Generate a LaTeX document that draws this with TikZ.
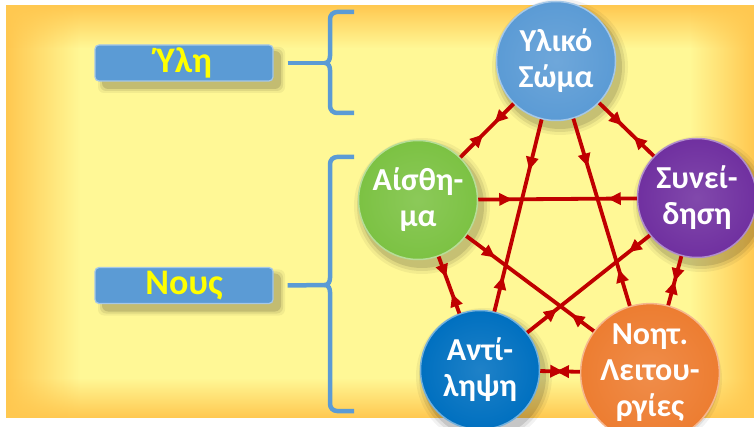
\documentclass[tikz,border=0pt]{standalone}
\usepackage{fontspec}
\newfontfamily\cf{Carlito}
\usetikzlibrary{arrows.meta,decorations.markings,fadings}

\definecolor{bgY}{HTML}{FFF896}
\definecolor{bgO}{HTML}{FFC850}
\definecolor{lblue}{HTML}{5B9BD5}
\definecolor{cgreen}{HTML}{7CC243}
\definecolor{cpurple}{HTML}{7030A0}
\definecolor{cblue}{HTML}{0070C0}
\definecolor{corange}{HTML}{ED7D31}
\definecolor{cred}{HTML}{C00000}
\definecolor{lyellow}{HTML}{FFFF00}

\tikzfading[name=fadeToRight, left color=transparent!0, right color=transparent!100]
\tikzfading[name=fadeToLeft, left color=transparent!100, right color=transparent!0]
\tikzfading[name=fadeToBottom, top color=transparent!0, bottom color=transparent!100]
\tikzfading[name=fadeToTop, top color=transparent!100, bottom color=transparent!0]

\tikzset{
  ball/.style={circle, minimum size=119pt, inner sep=0pt, text=white,
    font=\cf\bfseries\fontsize{32}{36}\selectfont, align=center,
    inner color=#1!88!white, outer color=#1, draw=#1!55!white, line width=1.5pt},
  lbl/.style={rectangle, rounded corners=4pt, minimum width=178pt, minimum height=36pt,
    fill=lblue, draw=lblue!55!white, line width=1.2pt, text=lyellow,
    font=\cf\bfseries\fontsize{36}{36}\selectfont, inner sep=0pt},
  brace/.style={draw=lblue, line width=4.5pt, line join=round},
  link/.style={draw=cred, line width=3.8pt},
  bi/.style 2 args={postaction={decorate}, decoration={markings,
    mark=at position #1 with {\arrow{Triangle[length=13pt,width=12pt]}},
    mark=at position -#2 with {\arrowreversed{Triangle[length=13pt,width=12pt]}}}}
}

\begin{document}
\begin{tikzpicture}[x=1pt,y=-1pt]
\useasboundingbox (0,0) rectangle (754,427);
\fill[white] (0,0) rectangle (754,427);
% background
\fill[bgY] (6,5) rectangle (754,418);
\fill[bgO, path fading=fadeToRight] (6,5) rectangle (80,418);
\fill[bgO, path fading=fadeToBottom] (6,5) rectangle (754,48);
\fill[bgO, path fading=fadeToTop] (6,378) rectangle (754,418);
\fill[bgO, path fading=fadeToLeft] (690,5) rectangle (754,418);

% label shadows
\foreach \yy in {63,285.5}{
  \foreach \s/\o in {0/0.12,2/0.08,4/0.05}
    \fill[black, opacity=\o, rounded corners=6pt] (102-\s,\yy-12-\s) rectangle (281+\s,\yy+26+\s);
}
% labels
\node[lbl] (hyle) at (184,63) {Ύλη};
\node[lbl] (nous) at (184,285.5) {Νους};

% braces
\coordinate (b1) at (325,63);
\coordinate (b2) at (325,285);
\draw[brace] (354,12) -- (337,12) to[out=180,in=90] (330,19) -- (330,56)
   to[out=-90,in=0] (b1) to[out=0,in=90] (330,70) -- (330,106)
   to[out=-90,in=180] (337,113) -- (354,113);
\draw[brace] ([xshift=14pt]hyle.east) -- (b1);
\draw[brace] (354,157) -- (337,157) to[out=180,in=90] (330,164) -- (330,278)
   to[out=-90,in=0] (b2) to[out=0,in=90] (330,292) -- (330,404)
   to[out=-90,in=180] (337,411) -- (354,411);
\draw[brace] ([xshift=14pt]nous.east) -- (b2);

% circle shadows
\foreach \x/\y in {556/61, 418/200, 697/198, 480/370, 650/373}{
  \foreach \r/\o in {68/0.05, 65/0.08, 62/0.11}
    \fill[black, opacity=\o] (\x+4,\y+6) circle[radius=\r pt];
}

% circles
\node[ball=lblue]   (ul) at (556,61)  {Υλικό\\Σώμα};
\node[ball=cgreen]  (ai) at (418,200) {Αίσθη-\\μα};
\node[ball=cpurple] (sy) at (697,198) {Συνεί-\\δηση};
\node[ball=cblue]   (an) at (480,370) {Αντί-\\ληψη};
\node[ball=corange] (no) at (650,373) {Νοητ.\\Λειτου-\\ργίες};

% links
\draw[link, bi={27pt}{32pt}] (ul) -- (ai);
\draw[link, bi={32pt}{28pt}] (ul) -- (sy);
\draw[link, bi={52pt}{36pt}] (ul) -- (an);
\draw[link, bi={50pt}{38pt}] (ul) -- (no);
\draw[link, bi={34pt}{29pt}] (ai) -- (sy);
\draw[link, bi={22pt}{21pt}] (ai) -- (an);
\draw[link, bi={36pt}{28pt}] (ai) -- (no);
\draw[link, bi={27pt}{38pt}] (sy) -- (an);
\draw[link, bi={26pt}{25pt}] (sy) -- (no);
\draw[link, bi={23pt}{24pt}] (an) -- (no);
\end{tikzpicture}
\end{document}
